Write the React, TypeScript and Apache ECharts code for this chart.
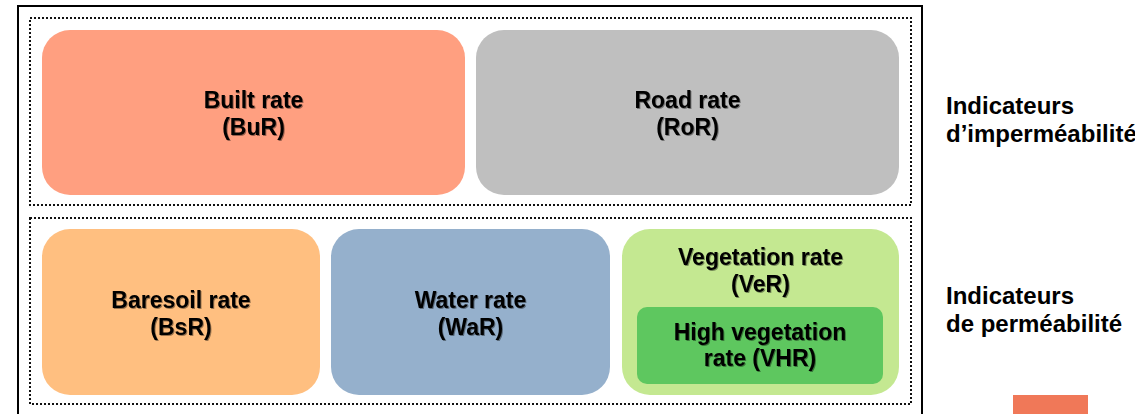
import React, { useEffect, useRef } from "react";
import * as echarts from "echarts";

// Content
const boxLabels = [
  "Built rate\n(BuR)",
  "Road rate\n(RoR)",
  "Baresoil rate\n(BsR)",
  "Water rate\n(WaR)",
  "Vegetation rate\n(VeR)",
];
const innerLabel = "High vegetation\nrate (VHR)";
const groupLabels = ["Indicateurs\nd\u2019imperméabilité", "Indicateurs\nde perméabilité"];
const boxColors = ["#FF9F80", "#BFBFBF", "#FFBF80", "#95B0CC", "#C4E891"];
const innerColor = "#5EC75F";
const accentColor = "#F07858";

// Layout (pixel geometry of the diagram)
const boxRects = [
  [42, 30, 423, 165],
  [476, 30, 423, 165],
  [42, 229, 278, 166],
  [331, 229, 279, 166],
  [622, 229, 277, 166],
];
const innerRect = [637, 307, 246, 77];
const FONT = '"Liberation Sans", Arial, sans-serif';

export default function App() {
  const ref = useRef<HTMLDivElement>(null);
  useEffect(() => {
    if (!ref.current) return;
    const chart = echarts.init(ref.current, null, { renderer: "svg" });
    const textStyle = (text: string, x: number, y: number, size: number, lh: number) => ({
      text,
      x,
      y,
      fill: "#000",
      fontFamily: FONT,
      fontWeight: "bold",
      fontSize: size,
      lineHeight: lh,
      align: "center",
      verticalAlign: "middle",
      textShadowColor: "rgba(0,0,0,0.4)",
      textShadowOffsetX: 1,
      textShadowOffsetY: 1,
      textShadowBlur: 1,
    });
    const elements: any[] = [];
    // outer frame
    elements.push({
      type: "rect",
      shape: { x: 18, y: 6, width: 904, height: 430 },
      style: { fill: "none", stroke: "#000", lineWidth: 2 },
    });
    // dotted group frames
    [[30, 18, 881, 187], [30, 218, 881, 186]].forEach((r) =>
      elements.push({
        type: "rect",
        shape: { x: r[0], y: r[1], width: r[2], height: r[3] },
        style: { fill: "none", stroke: "#111", lineWidth: 2, lineDash: [2, 2] },
      })
    );
    boxRects.forEach((r, i) => {
      elements.push({
        type: "rect",
        shape: { x: r[0], y: r[1], width: r[2], height: r[3], r: 28 },
        style: { fill: boxColors[i] },
      });
    });
    elements.push({
      type: "rect",
      shape: { x: innerRect[0], y: innerRect[1], width: innerRect[2], height: innerRect[3], r: 10 },
      style: { fill: innerColor },
    });
    const centersY = [113, 113, 313, 313, 270];
    boxRects.forEach((r, i) => {
      elements.push({
        type: "text",
        style: textStyle(boxLabels[i], r[0] + r[2] / 2, centersY[i], 23, 27),
      });
    });
    elements.push({
      type: "text",
      style: textStyle(innerLabel, innerRect[0] + innerRect[2] / 2, 345, 23, 26),
    });
    const gy = [119, 309];
    groupLabels.forEach((t, i) => {
      elements.push({
        type: "text",
        style: {
          text: t,
          x: 946,
          y: gy[i],
          fill: "#000",
          fontFamily: FONT,
          fontWeight: "bold",
          fontSize: 24,
          lineHeight: 28,
          align: "left",
          verticalAlign: "middle",
        },
      });
    });
    elements.push({
      type: "rect",
      shape: { x: 1013, y: 395, width: 75, height: 30 },
      style: { fill: accentColor },
    });
    chart.setOption({ animation: false, graphic: { elements } });
    return () => chart.dispose();
  }, []);
  return (
    <div
      ref={ref}
      style={{ position: "fixed", left: 0, top: 0, width: 1135, height: 414, background: "#fff" }}
    />
  );
}
